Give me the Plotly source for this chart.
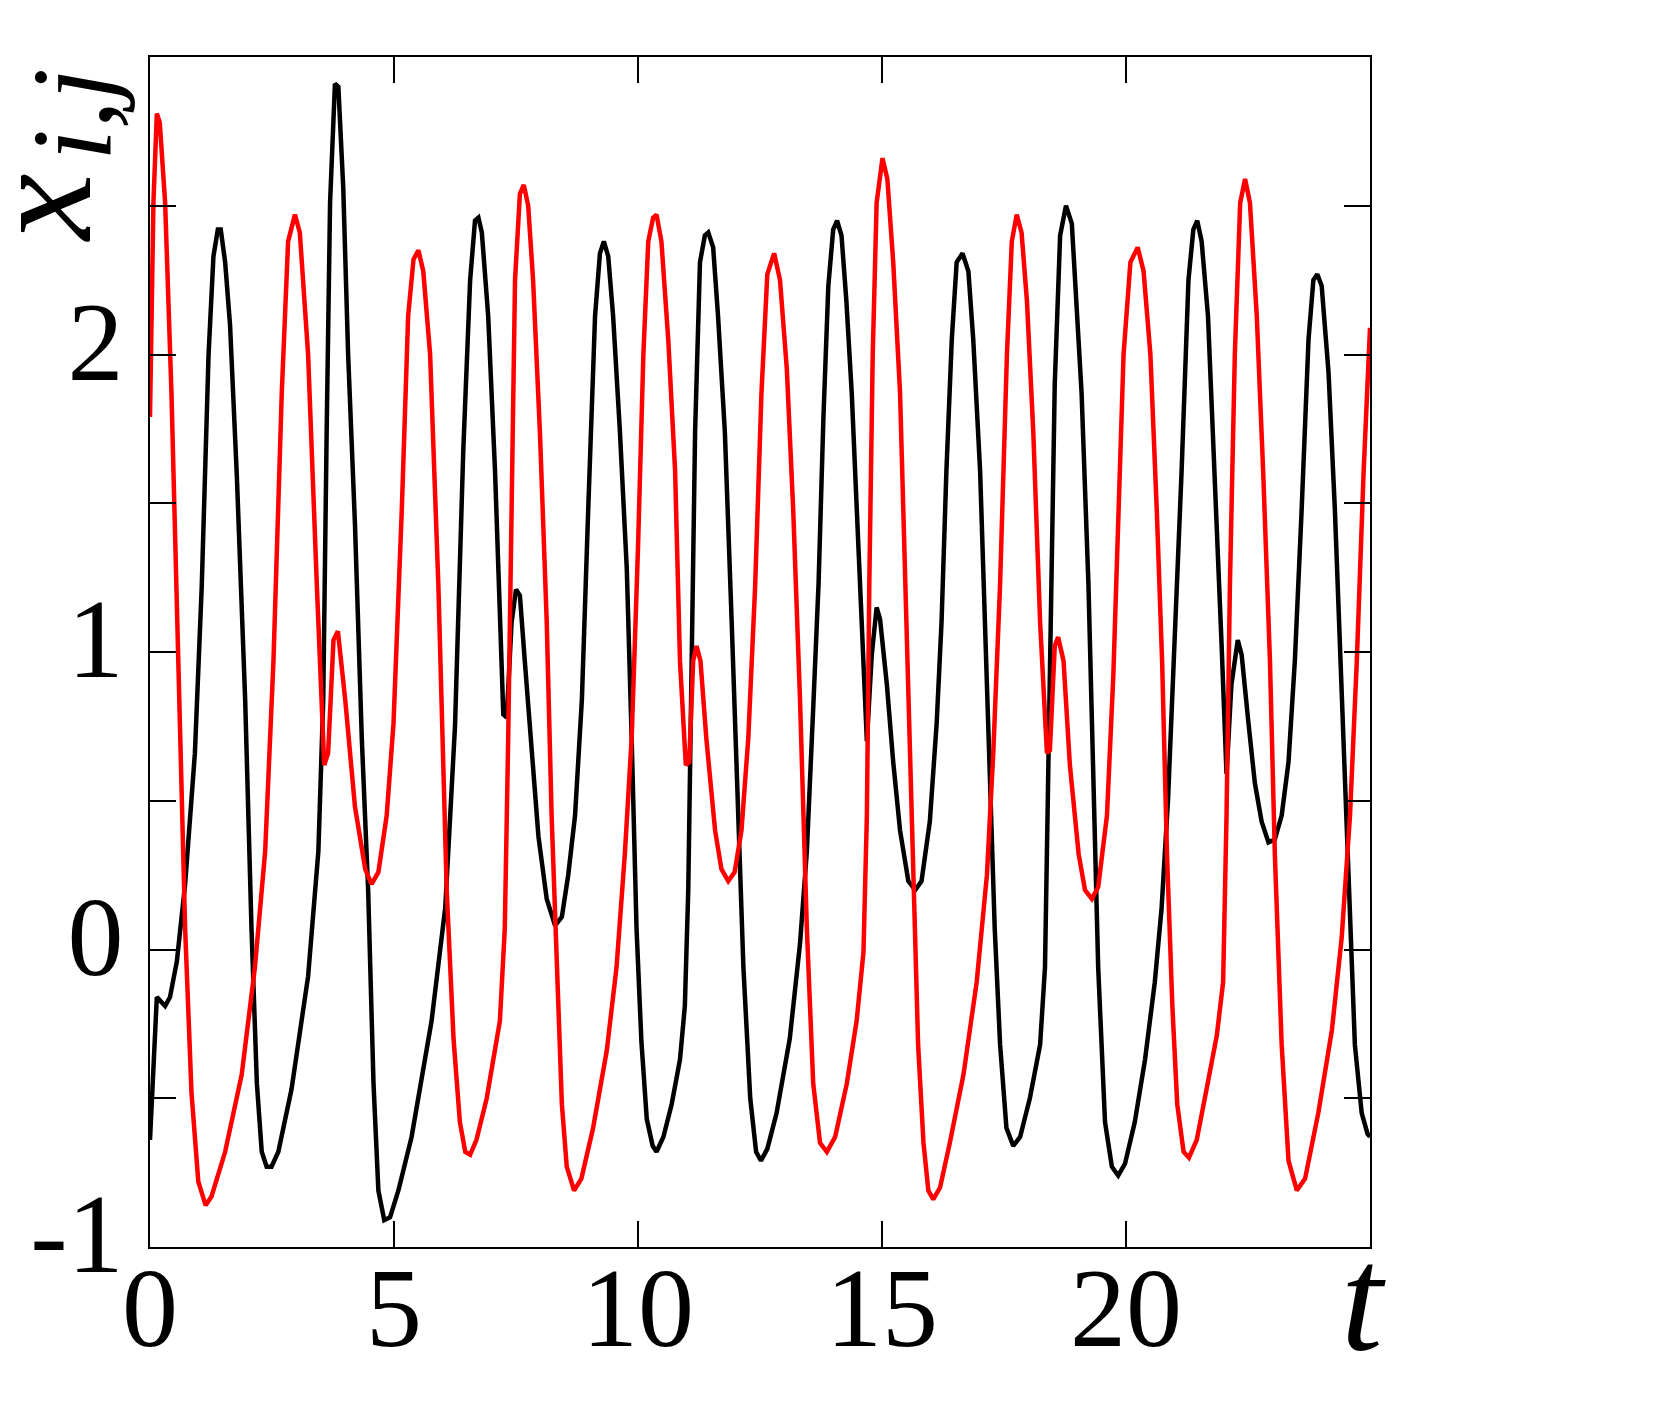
import plotly.graph_objects as go

# black trajectory (t, x)
t_black = [0, 0.14, 0.31, 0.41, 0.55, 0.72, 0.92, 1.06, 1.20, 1.30, 1.39, 1.45, 1.54, 1.64,
           1.78, 1.95, 2.08, 2.19, 2.29, 2.39, 2.49, 2.63, 2.90, 3.24, 3.45, 3.55, 3.62, 3.69,
           3.79, 3.86, 3.96, 4.06, 4.20, 4.34, 4.47, 4.58, 4.68, 4.80, 4.92, 5.09, 5.36, 5.77,
           6.05, 6.25, 6.42, 6.56, 6.66, 6.73, 6.80, 6.93, 7.07, 7.17, 7.24, 7.31, 7.41, 7.50,
           7.58, 7.68, 7.82, 7.96, 8.13, 8.30, 8.44, 8.57, 8.71, 8.85, 8.98, 9.12, 9.22, 9.30,
           9.39, 9.49, 9.63, 9.77, 9.87, 9.97, 10.07, 10.18, 10.30, 10.38, 10.52, 10.69, 10.86,
           10.96, 11.03, 11.10, 11.17, 11.27, 11.37, 11.44, 11.54, 11.64, 11.78, 11.92, 12.06,
           12.16, 12.30, 12.42, 12.52, 12.65, 12.84, 13.11, 13.32, 13.46, 13.59, 13.70, 13.80,
           13.90, 14.00, 14.08, 14.17, 14.27, 14.38, 14.48, 14.58, 14.69, 14.79, 14.89, 14.96,
           15.10, 15.23, 15.37, 15.54, 15.68, 15.81, 15.98, 16.12, 16.22, 16.32, 16.43, 16.53,
           16.65, 16.77, 16.87, 17.01, 17.11, 17.21, 17.31, 17.42, 17.55, 17.69, 17.83, 18.03,
           18.24, 18.34, 18.41, 18.47, 18.54, 18.65, 18.77, 18.89, 18.99, 19.09, 19.23, 19.33,
           19.43, 19.57, 19.71, 19.84, 19.98, 20.18, 20.39, 20.59, 20.73, 20.86, 21.00, 21.14,
           21.28, 21.38, 21.46, 21.55, 21.68, 21.82, 21.96, 22.06, 22.16, 22.29, 22.37, 22.51,
           22.64, 22.78, 22.92, 23.05, 23.19, 23.33, 23.46, 23.60, 23.74, 23.84, 23.92, 24.01,
           24.15, 24.28, 24.42, 24.56, 24.69, 24.83, 24.95, 25.0]
x_black = [-0.64, -0.16, -0.19, -0.16, -0.04, 0.22, 0.66, 1.22, 2.00, 2.33, 2.42, 2.42, 2.31, 2.10,
           1.59, 0.84, 0.07, -0.45, -0.68, -0.73, -0.73, -0.68, -0.47, -0.09, 0.33, 0.84, 1.74, 2.51,
           2.91, 2.90, 2.56, 2.00, 1.43, 0.71, 0.20, -0.45, -0.81, -0.91, -0.90, -0.81, -0.63, -0.24,
           0.14, 0.75, 1.68, 2.25, 2.45, 2.46, 2.41, 2.13, 1.61, 1.10, 0.79, 0.78, 1.10, 1.21,
           1.19, 0.97, 0.66, 0.38, 0.17, 0.08, 0.11, 0.25, 0.45, 0.84, 1.48, 2.13, 2.34, 2.38,
           2.33, 2.13, 1.74, 1.28, 0.71, 0.07, -0.31, -0.57, -0.66, -0.68, -0.63, -0.52, -0.37,
           -0.19, 0.20, 0.97, 1.74, 2.31, 2.40, 2.41, 2.36, 2.13, 1.74, 1.10, 0.45,
           -0.06, -0.50, -0.68, -0.71, -0.67, -0.55, -0.30, 0.02, 0.33, 0.81, 1.23, 1.79,
           2.23, 2.42, 2.45, 2.40, 2.18, 1.87, 1.48, 1.07, 0.70, 0.99, 1.15, 1.11,
           0.89, 0.63, 0.40, 0.23, 0.20, 0.23, 0.43, 0.76, 1.10, 1.61, 2.05, 2.31,
           2.34, 2.28, 2.05, 1.61, 1.10, 0.58, 0.07, -0.32, -0.60, -0.66, -0.63, -0.50,
           -0.32, -0.06, 0.58, 1.23, 1.90, 2.40, 2.50, 2.44, 2.18, 1.87, 1.23, 0.58,
           -0.06, -0.58, -0.73, -0.76, -0.72, -0.58, -0.37, -0.11, 0.14, 0.50, 1.02, 1.61,
           2.25, 2.42, 2.45, 2.38, 2.13, 1.61, 1.02, 0.59, 0.89, 1.04, 0.99, 0.76,
           0.56, 0.43, 0.36, 0.37, 0.45, 0.63, 0.97, 1.48, 2.05, 2.25, 2.27, 2.23,
           1.94, 1.48, 0.84, 0.20, -0.32, -0.55, -0.62, -0.63]

# red trajectory (t, x)
t_red = [0, 0.07, 0.14, 0.20, 0.31, 0.44, 0.58, 0.72, 0.85, 0.99, 1.14, 1.26, 1.54, 1.88, 2.15,
         2.36, 2.53, 2.70, 2.83, 2.97, 3.07, 3.24, 3.42, 3.57, 3.65, 3.76, 3.85, 4.00, 4.20,
         4.41, 4.54, 4.68, 4.85, 4.99, 5.16, 5.29, 5.40, 5.50, 5.60, 5.74, 5.91, 6.08, 6.22,
         6.35, 6.46, 6.56, 6.69, 6.90, 7.17, 7.27, 7.34, 7.41, 7.48, 7.58, 7.66, 7.75, 7.85,
         7.99, 8.13, 8.23, 8.33, 8.44, 8.54, 8.69, 8.84, 9.08, 9.36, 9.56, 9.73, 9.87, 10.00,
         10.11, 10.21, 10.31, 10.38, 10.48, 10.62, 10.76, 10.86, 10.98, 11.05, 11.13, 11.20,
         11.28, 11.40, 11.58, 11.71, 11.85, 11.98, 12.12, 12.26, 12.40, 12.53, 12.65, 12.79,
         12.91, 13.05, 13.18, 13.32, 13.46, 13.59, 13.73, 13.87, 14.04, 14.28, 14.48, 14.62,
         14.69, 14.74, 14.81, 14.89, 15.01, 15.11, 15.23, 15.37, 15.50, 15.64, 15.74, 15.85,
         15.95, 16.05, 16.19, 16.39, 16.67, 16.94, 17.15, 17.28, 17.42, 17.56, 17.66, 17.76,
         17.86, 17.97, 18.10, 18.24, 18.38, 18.44, 18.54, 18.61, 18.72, 18.85, 19.03, 19.16,
         19.30, 19.43, 19.61, 19.74, 19.85, 19.95, 20.09, 20.24, 20.36, 20.50, 20.63, 20.74,
         20.84, 20.95, 21.05, 21.18, 21.29, 21.45, 21.65, 21.86, 21.99, 22.06, 22.13, 22.23,
         22.34, 22.44, 22.54, 22.68, 22.81, 22.95, 23.05, 23.19, 23.33, 23.50, 23.67, 23.94,
         24.22, 24.42, 24.59, 24.73, 24.87, 25.00]
x_red = [1.79, 2.51, 2.81, 2.78, 2.51, 1.87, 0.97, 0.07, -0.48, -0.78, -0.86, -0.83, -0.68, -0.42, -0.06,
         0.33, 0.97, 1.87, 2.38, 2.47, 2.41, 2.00, 1.22, 0.62, 0.66, 1.04, 1.07, 0.84, 0.48,
         0.27, 0.22, 0.26, 0.45, 0.76, 1.48, 2.13, 2.32, 2.35, 2.28, 2.00, 1.22, 0.20, -0.30,
         -0.58, -0.68, -0.69, -0.64, -0.50, -0.24, 0.07, 0.71, 1.61, 2.25, 2.54, 2.57, 2.50, 2.25,
         1.74, 1.10, 0.45, -0.06, -0.52, -0.73, -0.81, -0.77, -0.60, -0.34, -0.06, 0.32, 0.71, 1.35,
         2.00, 2.38, 2.46, 2.47, 2.38, 2.05, 1.61, 0.97, 0.62, 0.63, 0.97, 1.02,
         0.97, 0.71, 0.40, 0.27, 0.23, 0.26, 0.40, 0.71, 1.22, 1.87, 2.27, 2.34,
         2.25, 1.95, 1.48, 0.84, 0.07, -0.45, -0.65, -0.68, -0.63, -0.45, -0.24, -0.01,
         0.45, 1.23, 2.00, 2.51, 2.66, 2.59, 2.31, 1.87, 1.10, 0.20, -0.32, -0.65,
         -0.81, -0.84, -0.80, -0.65, -0.42, -0.11, 0.25, 0.66, 1.23, 2.00, 2.38, 2.47,
         2.41, 2.18, 1.74, 1.10, 0.66, 0.67, 1.02, 1.05, 0.97, 0.62, 0.32, 0.20,
         0.17, 0.21, 0.45, 0.92, 1.48, 2.00, 2.31, 2.36, 2.28, 2.00, 1.48, 0.97,
         0.32, -0.19, -0.52, -0.68, -0.70, -0.64, -0.47, -0.29, -0.11, 0.45, 1.23, 2.00,
         2.51, 2.59, 2.51, 2.13, 1.61, 0.97, 0.32, -0.32, -0.71, -0.81, -0.77, -0.55,
         -0.27, 0.04, 0.45, 0.97, 1.61, 2.09]

x_ticks = [0, 5, 10, 15, 20]
x_ticktext = ['0', '5', '10', '15', '20']
y_ticks = [-1, -0.5, 0, 0.5, 1, 1.5, 2, 2.5]
y_ticktext = ['-1', '', '0', '', '1', '', '2', '']

serif = "Liberation Serif"

fig = go.Figure()
fig.add_trace(go.Scatter(x=t_black, y=x_black, mode='lines',
                         line=dict(color='black', width=4.5), showlegend=False))
fig.add_trace(go.Scatter(x=t_red, y=x_red, mode='lines',
                         line=dict(color='red', width=4.5), showlegend=False))

fig.update_layout(
    width=1664, height=1427,
    margin=dict(l=142, r=302, t=49, b=188),
    paper_bgcolor='white', plot_bgcolor='white',
    font=dict(family=serif, size=112, color='black'),
    xaxis=dict(range=[0, 25], tickvals=x_ticks, ticktext=x_ticktext,
               ticks='inside', ticklen=26, tickwidth=2, tickcolor='black',
               showline=True, linewidth=2, linecolor='black', mirror='ticks',
               showgrid=False, zeroline=False, ticklabelstandoff=-37),
    yaxis=dict(range=[-1, 3], tickvals=y_ticks, ticktext=y_ticktext,
               ticks='inside', ticklen=26, tickwidth=1.5, tickcolor='black',
               showline=True, linewidth=2, linecolor='black', mirror='ticks',
               showgrid=False, zeroline=False, ticklabelstandoff=2, ticklabelshift=-14),
    annotations=[
        # y label x_{i,j}: main symbol and subscript placed separately
        dict(text='<i>x</i>', xref='paper', yref='paper',
             x=-0.091, y=0.874, xanchor='center', yanchor='middle', textangle=-90,
             showarrow=False, font=dict(family=serif, size=150)),
        dict(text='<i>i,j</i>', xref='paper', yref='paper',
             x=-0.064, y=0.952, xanchor='center', yanchor='middle', textangle=-90,
             showarrow=False, font=dict(family=serif, size=115)),
        dict(text='<i>t</i>', xref='paper', yref='paper',
             x=0.995, y=-0.044, xanchor='center', yanchor='middle',
             showarrow=False, font=dict(family=serif, size=150)),
    ],
)

fig.write_html("out.html")
